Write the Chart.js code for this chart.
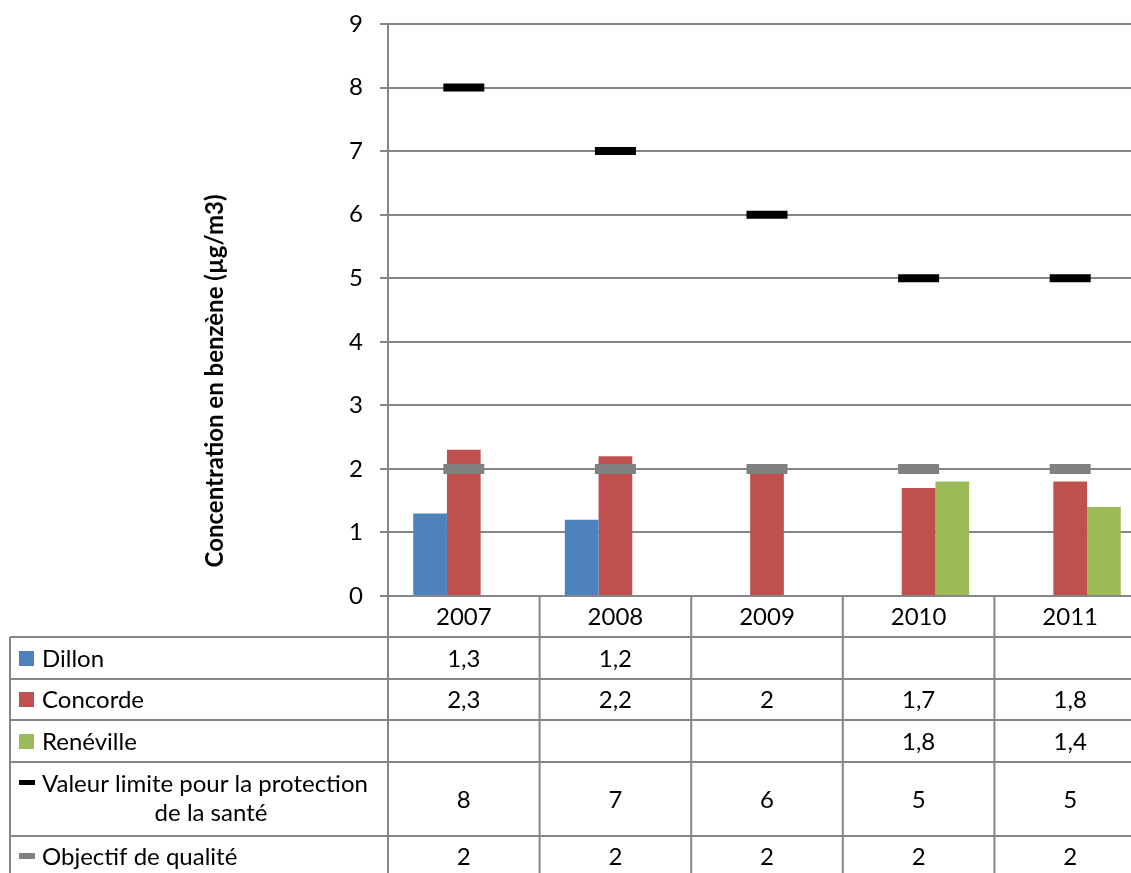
<!DOCTYPE html>
<html>
<head>
<meta charset="utf-8">
<script src="https://cdn.jsdelivr.net/npm/chart.js@4.4.1/dist/chart.umd.min.js"></script>
<style>
  html, body { margin: 0; padding: 0; background: #fff; overflow: hidden; }
  #wrap { position: relative; width: 1146px; height: 873px; }
</style>
</head>
<body>
<div id="wrap"><canvas id="chart"></canvas></div>
<script>
// Annual benzene concentrations (µg/m3) per station and regulatory thresholds
const years = ['2007', '2008', '2009', '2010', '2011'];
const dillon = [1.3, 1.2, null, null, null];
const concorde = [2.3, 2.2, 2, 1.7, 1.8];
const reneville = [null, null, null, 1.8, 1.4];
const valeurLimite = [8, 7, 6, 5, 5];
const objectifQualite = [2, 2, 2, 2, 2];
const seriesNames = ['Dillon', 'Concorde', 'Renéville', 'Valeur limite pour la protection de la santé', 'Objectif de qualité'];
const yMin = 0, yMax = 9, yStep = 1;
const yTitle = 'Concentration en benzène (µg/m3)';

const FONT = 'Lato, "Open Sans", sans-serif';
const FSIZE = 24;
const GRID = '#868686';
const colors = ['#4F81BD', '#C0504D', '#9BBB59', '#000000', '#808080'];

const fmt = v => (v === null || v === undefined) ? '' : String(v).replace('.', ',');

// Data table drawn under the plot, aligned on the category columns
const dataTable = {
  id: 'dataTable',
  afterDraw(chart) {
    const ctx = chart.ctx;
    const area = chart.chartArea;
    const x = chart.scales.x;
    const rows = [dillon, concorde, reneville, valeurLimite, objectifQualite];
    const tableLeft = 10;
    const headerTop = area.bottom;
    const rowEdges = [637, 679, 720, 762, 836, 900];
    const n = years.length;
    const bounds = [area.left];
    for (let i = 0; i < n - 1; i++) {
      bounds.push((x.getPixelForValue(i) + x.getPixelForValue(i + 1)) / 2);
    }
    bounds.push(area.right);

    ctx.save();
    ctx.strokeStyle = GRID;
    ctx.lineWidth = 2;
    // horizontal rules
    for (let r = 0; r < rowEdges.length - 1; r++) {
      ctx.beginPath();
      ctx.moveTo(tableLeft, rowEdges[r]);
      ctx.lineTo(area.right, rowEdges[r]);
      ctx.stroke();
    }
    // left border of the legend column
    ctx.beginPath();
    ctx.moveTo(tableLeft, rowEdges[0]);
    ctx.lineTo(tableLeft, chart.height);
    ctx.stroke();
    // column separators (axis line continues through the table)
    bounds.slice(0, n).forEach(bx => {
      ctx.beginPath();
      ctx.moveTo(bx, headerTop);
      ctx.lineTo(bx, chart.height);
      ctx.stroke();
    });

    ctx.fillStyle = '#000';
    ctx.font = FSIZE + 'px ' + FONT;
    ctx.textAlign = 'center';
    ctx.textBaseline = 'middle';
    // year header
    years.forEach((yr, i) => {
      ctx.fillText(yr, x.getPixelForValue(i), (headerTop + rowEdges[0]) / 2 + 1);
    });
    // values and legend keys
    rows.forEach((vals, r) => {
      const cy = (rowEdges[r] + rowEdges[r + 1]) / 2;
      const rowMid = r === rows.length - 1 ? 856 : cy;
      vals.forEach((v, i) => {
        ctx.fillText(fmt(v), x.getPixelForValue(i), rowMid + 1);
      });
    });

    // legend column
    const keyX = 19;
    const labelY = [658, 699, 741, 783, 856];
    ctx.textAlign = 'left';
    for (let r = 0; r < 3; r++) {
      ctx.fillStyle = colors[r];
      ctx.fillRect(keyX, labelY[r] - 7, 15, 15);
      ctx.fillStyle = '#000';
      ctx.fillText(seriesNames[r], 42, labelY[r] + 1);
    }
    // line series keys
    ctx.fillStyle = colors[3];
    ctx.fillRect(keyX, labelY[3] - 3, 16, 5);
    ctx.fillStyle = colors[4];
    ctx.fillRect(keyX, labelY[4] - 3, 16, 6);
    ctx.fillStyle = '#000';
    ctx.fillText('Valeur limite pour la protection', 42, labelY[3] + 1);
    ctx.textAlign = 'center';
    ctx.fillText('de la santé', 211, 813);
    ctx.textAlign = 'left';
    ctx.fillText(seriesNames[4], 42, labelY[4] + 1);

    // vertical axis title
    ctx.translate(215, 381);
    ctx.rotate(-Math.PI / 2);
    ctx.textAlign = 'center';
    ctx.font = 'bold ' + FSIZE + 'px ' + FONT;
    ctx.fillText(yTitle, 0, 0);
    ctx.restore();
  }
};

new Chart(document.getElementById('chart'), {
  type: 'bar',
  data: {
    labels: years,
    datasets: [
      { label: seriesNames[0], data: dillon, backgroundColor: colors[0], order: 2 },
      { label: seriesNames[1], data: concorde, backgroundColor: colors[1], order: 2 },
      { label: seriesNames[2], data: reneville, backgroundColor: colors[2], order: 2 },
      {
        type: 'line', label: seriesNames[3], data: valeurLimite, showLine: false,
        pointStyle: 'line', pointRadius: 20.5, pointBorderWidth: 8,
        borderColor: colors[3], backgroundColor: colors[3], order: 1
      },
      {
        type: 'line', label: seriesNames[4], data: objectifQualite, showLine: false,
        pointStyle: 'line', pointRadius: 20.5, pointBorderWidth: 10,
        borderColor: colors[4], backgroundColor: colors[4], order: 0
      }
    ]
  },
  options: {
    responsive: true,
    maintainAspectRatio: false,
    animation: false,
    events: [],
    layout: { autoPadding: false, padding: { left: 0, right: 0, top: 24, bottom: 277 } },
    datasets: { bar: { categoryPercentage: 0.667, barPercentage: 1.0 } },
    plugins: { legend: { display: false }, tooltip: { enabled: false } },
    scales: {
      x: { display: false },
      y: {
        min: yMin, max: yMax,
        ticks: { stepSize: yStep, color: '#000', font: { family: FONT, size: FSIZE }, padding: 17 },
        grid: { color: GRID, lineWidth: 2, tickLength: 8 },
        border: { color: GRID, width: 2 },
        afterFit(scale) {
          scale.width = 388;
          scale.paddingTop = 0;
          scale.paddingBottom = 0;
        }
      }
    }
  },
  plugins: [dataTable]
});
</script>
</body>
</html>
